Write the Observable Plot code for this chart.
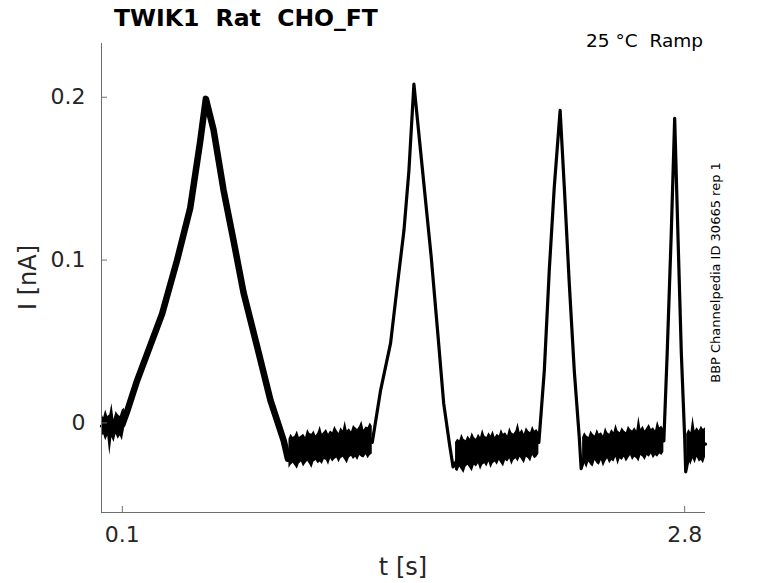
<!DOCTYPE html>
<html>
<head>
<meta charset="utf-8">
<script src="https://cdn.jsdelivr.net/npm/d3@7"></script>
<script src="https://cdn.jsdelivr.net/npm/@observablehq/plot@0.6"></script>
<style>
  html, body { margin: 0; padding: 0; background: #fff; }
  svg text { font-family: "DejaVu Sans", sans-serif; }
</style>
</head>
<body>
<div id="chart"></div>
<script>
// ---- data ----
const titleText = "TWIK1  Rat  CHO_FT";
const condText = "25 °C  Ramp";
const sideText = "BBP Channelpedia ID 30665 rep 1";
const xLabel = "t [s]";
const yLabel = "I [nA]";
const xTicks = [0.1, 2.8];
const yTicks = [0, 0.1, 0.2];
const xDomain = [0, 2.9];
const yDomain = [-0.055, 0.233];

// centre of the current trace (t in s, I in nA)
const traceT = [0, 0.10, 0.12, 0.171, 0.291, 0.363, 0.426, 0.474, 0.501, 0.538, 0.586, 0.634, 0.682, 0.747, 0.811, 0.875, 0.895, 0.93, 1.10, 1.29,
  1.30, 1.34, 1.388, 1.42, 1.452, 1.476, 1.500, 1.532, 1.583, 1.616, 1.643, 1.672, 1.688, 1.72, 1.90, 2.10,
  2.126, 2.150, 2.174, 2.202, 2.222, 2.246, 2.270, 2.294, 2.303, 2.33, 2.50, 2.70,
  2.716, 2.735, 2.752, 2.768, 2.784, 2.800, 2.805, 2.83, 2.90];
const traceI = [-0.002, -0.001, 0.006, 0.026, 0.067, 0.100, 0.132, 0.173, 0.199, 0.180, 0.143, 0.112, 0.080, 0.047, 0.014, -0.011, -0.022, -0.018, -0.014, -0.010,
  -0.012, 0.020, 0.049, 0.084, 0.118, 0.155, 0.208, 0.167, 0.102, 0.053, 0.012, -0.014, -0.027, -0.020, -0.016, -0.012,
  0.032, 0.094, 0.145, 0.192, 0.145, 0.0855, 0.032, -0.009, -0.028, -0.016, -0.013, -0.011,
  0.0426, 0.114, 0.187, 0.114, 0.0426, -0.009, -0.030, -0.014, -0.013];

// noise envelope (upper / lower edge) of the holding segments, read every 0.01 s
const noiseStep = 0.01;
const baseA_start = 0.00;
const baseA_hi = [0.006, 0.003, 0.008, 0.004, 0.005, 0.012, 0.002, 0.007, 0.005, 0.004, 0.008, 0.009];
const baseA_lo = [-0.009, -0.007, -0.011, -0.008, -0.020, -0.009, -0.012, -0.007, -0.010, -0.008, -0.011, -0.004];

const baseB_start = 0.90;
const baseB_hi = [-0.010, -0.007, -0.009, -0.008, -0.005, -0.009, -0.008, -0.007, -0.009, -0.004, -0.0065, -0.007, -0.005, -0.008, -0.006, -0.002, -0.007, -0.0055, -0.004, -0.007,
  -0.005, -0.006, -0.002, -0.0045, -0.0065, -0.003, -0.005, 0.001, -0.005, -0.0035, -0.0055, -0.0015, -0.003, -0.004, -0.002, 0.001, -0.0045, -0.0025, -0.003, 0.000, -0.002];
const baseB_lo = [-0.028, -0.026, -0.0247, -0.0265, -0.0285, -0.025, -0.024, -0.027, -0.025, -0.0235, -0.0255, -0.028, -0.024, -0.023, -0.025, -0.024, -0.0255, -0.0225, -0.023, -0.026,
  -0.022, -0.024, -0.0225, -0.0215, -0.0245, -0.022, -0.021, -0.023, -0.025, -0.0215, -0.0205, -0.0225, -0.021, -0.023, -0.020, -0.021, -0.0215, -0.0195, -0.022, -0.020, -0.019];

const baseC_start = 1.70;
const baseC_hi = [-0.012, -0.010, -0.011, -0.007, -0.010, -0.011, -0.008, -0.010, -0.006, -0.009, -0.010, -0.007, -0.009, -0.004, -0.008, -0.009, -0.006, -0.008, -0.005, -0.009,
  -0.007, -0.008, -0.004, -0.007, -0.006, -0.008, -0.003, -0.006, -0.007, -0.005, 0.000, -0.006, -0.004, -0.007, -0.003, -0.005, -0.006, -0.002, -0.005, -0.004, -0.006];
const baseC_lo = [-0.029, -0.030, -0.027, -0.029, -0.031, -0.027, -0.026, -0.028, -0.030, -0.026, -0.027, -0.025, -0.029, -0.026, -0.025, -0.027, -0.024, -0.028, -0.025, -0.024,
  -0.026, -0.023, -0.025, -0.027, -0.023, -0.024, -0.022, -0.026, -0.023, -0.022, -0.024, -0.021, -0.023, -0.025, -0.021, -0.022, -0.024, -0.020, -0.022, -0.021, -0.019];

const baseD_start = 2.31;
const baseD_hi = [-0.009, -0.006, -0.008, -0.009, -0.005, -0.007, -0.008, -0.004, -0.007, -0.006, -0.008, -0.003, -0.006, -0.007, -0.004, -0.006, -0.001, -0.005, -0.006, -0.003,
  -0.005, -0.006, -0.002, -0.004, -0.005, -0.003, -0.005, 0.004, -0.004, -0.002, -0.005, -0.003, -0.001, -0.004, -0.003, -0.005, 0.001, -0.003, -0.002, -0.004];
const baseD_lo = [-0.027, -0.025, -0.028, -0.024, -0.026, -0.027, -0.023, -0.025, -0.026, -0.023, -0.027, -0.024, -0.022, -0.025, -0.023, -0.024, -0.021, -0.026, -0.022, -0.023,
  -0.021, -0.024, -0.022, -0.020, -0.023, -0.021, -0.022, -0.024, -0.020, -0.021, -0.023, -0.020, -0.021, -0.019, -0.022, -0.020, -0.021, -0.019, -0.020, -0.018];

const baseE_start = 2.81;
const baseE_hi = [-0.007, -0.004, -0.006, 0.004, -0.005, -0.003, -0.005, -0.002, -0.004, -0.003];
const baseE_lo = [-0.027, -0.023, -0.026, -0.022, -0.025, -0.021, -0.024, -0.023, -0.025, -0.021];

// ---- build tables ----
const trace = traceT.map((t, i) => ({t, I: traceI[i]}));
const segments = [
  ["A", baseA_start, baseA_hi, baseA_lo],
  ["B", baseB_start, baseB_hi, baseB_lo],
  ["C", baseC_start, baseC_hi, baseC_lo],
  ["D", baseD_start, baseD_hi, baseD_lo],
  ["E", baseE_start, baseE_hi, baseE_lo]
];
const noise = segments.flatMap(([seg, start, hi, lo]) =>
  hi.map((h, i) => ({seg, t: +(start + i * noiseStep).toFixed(3), hi: h, lo: lo[i]})));
const ramp1 = trace.filter(d => d.t >= 0.10 && d.t <= 0.90);

const W = 778, H = 583;
const mL = 101, mR = 73, mT = 43, mB = 71;
const axisColor = "#6e6e6e";
const labelColor = "#262626";

const chart = Plot.plot({
  width: W, height: H,
  marginLeft: mL, marginRight: mR, marginTop: mT, marginBottom: mB,
  style: {fontFamily: "DejaVu Sans", background: "white", overflow: "visible"},
  x: {domain: xDomain},
  y: {domain: yDomain},
  marks: [
    Plot.areaY(noise, {x: "t", y1: "lo", y2: "hi", z: "seg", fill: "black", curve: "linear"}),
    Plot.line(trace, {x: "t", y: "I", stroke: "black", strokeWidth: 3.2, strokeLinejoin: "round"}),
    Plot.line(ramp1, {x: "t", y: "I", stroke: "black", strokeWidth: 6.5, strokeLinejoin: "round"}),
    Plot.ruleX([xDomain[0]], {stroke: axisColor, strokeWidth: 1}),
    Plot.ruleY([yDomain[0]], {stroke: axisColor, strokeWidth: 1}),
    Plot.tickY(yTicks, {y: d => d, insetRight: (W - mL - mR) - 6, stroke: axisColor}),
    Plot.tickX(xTicks, {x: d => d, insetTop: (H - mT - mB) - 6, stroke: axisColor}),
    Plot.axisY(yTicks, {tickSize: 0, tickPadding: 16, fontSize: 22, fill: labelColor, label: null, tickFormat: d => String(d)}),
    Plot.axisX(xTicks, {tickSize: 0, tickPadding: 14, fontSize: 22, fill: labelColor, label: null, tickFormat: d => String(d)})
  ]
});

const svg = d3.select(chart);
svg.append("text")
  .attr("x", 114).attr("y", 26)
  .attr("font-size", 23.5).attr("font-weight", "bold").attr("fill", "#000")
  .attr("text-anchor", "start")
  .style("white-space", "pre")
  .text(titleText);
svg.append("text")
  .attr("x", 703).attr("y", 47)
  .attr("font-size", 18.5).attr("text-anchor", "end").attr("fill", "#000")
  .style("white-space", "pre")
  .text(condText);
svg.append("text")
  .attr("transform", "translate(720,272.5) rotate(-90)")
  .attr("font-size", 13).attr("text-anchor", "middle").attr("fill", "#000")
  .text(sideText);
svg.append("text")
  .attr("transform", `translate(36,${(mT + H - mB) / 2}) rotate(-90)`)
  .attr("font-size", 24).attr("text-anchor", "middle").attr("fill", labelColor)
  .text(yLabel);
svg.append("text")
  .attr("x", (mL + W - mR) / 2).attr("y", 575)
  .attr("font-size", 24).attr("text-anchor", "middle").attr("fill", labelColor)
  .text(xLabel);

document.getElementById("chart").appendChild(chart);
</script>
</body>
</html>
